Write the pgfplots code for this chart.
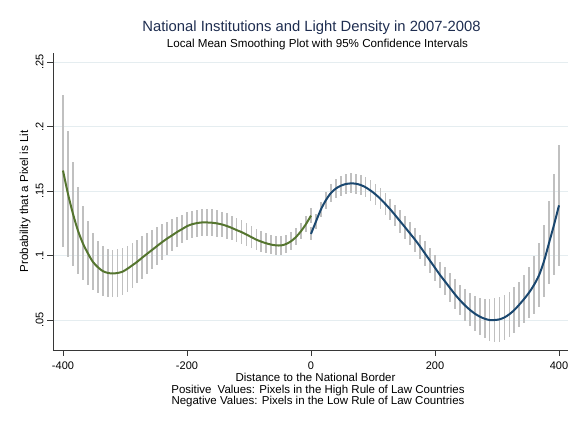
\documentclass[border=0pt]{standalone}
\usepackage{pgfplots}
\pgfplotsset{compat=1.18}
\usepackage{pgfplotstable}
\usepackage{fontspec}
\setmainfont{Liberation Sans}

\definecolor{stgreen}{RGB}{85,117,47}
\definecolor{stnavy}{RGB}{26,71,111}
\definecolor{ttl}{RGB}{30,45,80}
\definecolor{gridc}{RGB}{229,237,240}
\definecolor{cibar}{RGB}{192,192,192}
\definecolor{axc}{RGB}{55,55,55}

% Local mean and half-width of the 95% CI, low rule of law side (x < 0)
\pgfplotstableread{
x y e
-400 .1660 .0590
-392 .1480 .0489
-384 .1326 .0404
-376 .1196 .0340
-368 .1096 .0285
-360 .1019 .0246
-352 .0953 .0220
-344 .0911 .0203
-336 .0880 .0192
-328 .0866 .0187
-320 .0861 .0186
-312 .0865 .0185
-304 .0875 .0182
-296 .0898 .0178
-288 .0925 .0174
-280 .0953 .0169
-272 .0985 .0164
-264 .1015 .0158
-256 .1045 .0152
-248 .1075 .0145
-240 .1105 .0138
-232 .1132 .0131
-224 .1157 .0124
-216 .1183 .0117
-208 .1205 .0111
-200 .1228 .0107
-192 .1243 .0105
-184 .1252 .0104
-176 .1257 .0104
-168 .1257 .0104
-160 .1255 .0103
-152 .1250 .0102
-144 .1242 .0100
-136 .1230 .0098
-128 .1215 .0096
-120 .1198 .0094
-112 .1182 .0091
-104 .1163 .0088
-96 .1143 .0085
-88 .1123 .0082
-80 .1108 .0080
-72 .1095 .0078
-64 .1085 .0076
-56 .1079 .0074
-48 .1079 .0072
-40 .1090 .0070
-32 .1112 .0068
-24 .1145 .0066
-16 .1190 .0064
-8 .1245 .0062
0 .1310 .0060
}\lowtab

% Local mean and half-width of the 95% CI, high rule of law side (x > 0)
\pgfplotstableread{
x y e
0 .1168 .0050
8 .1265 .0055
16 .1358 .0060
24 .1430 .0065
32 .1485 .0070
40 .1520 .0073
48 .1542 .0076
56 .1555 .0077
64 .1560 .0078
72 .1558 .0078
80 .1548 .0078
88 .1530 .0079
96 .1505 .0080
104 .1475 .0080
112 .1440 .0081
120 .1400 .0082
128 .1358 .0083
136 .1312 .0084
144 .1265 .0086
152 .1218 .0088
160 .1170 .0090
168 .1122 .0092
176 .1070 .0093
184 .1015 .0095
192 .0960 .0097
200 .0905 .0100
208 .0850 .0104
216 .0800 .0108
224 .0750 .0112
232 .0700 .0116
240 .0655 .0120
248 .0615 .0125
256 .0580 .0130
264 .0550 .0136
272 .0527 .0143
280 .0510 .0150
288 .0500 .0160
296 .0500 .0170
304 .0505 .0175
312 .0520 .0175
320 .0545 .0175
328 .0578 .0175
336 .0620 .0178
344 .0665 .0185
352 .0715 .0200
360 .0775 .0225
368 .0850 .0250
376 .0960 .0280
384 .1100 .0320
392 .1240 .0390
400 .1390 .0470
}\hightab

\begin{document}
\begin{tikzpicture}
\path[use as bounding box] (-53pt,-76pt) rectangle (518pt,350pt);
\begin{axis}[
  at={(0,0)}, anchor=south west,
  scale only axis, width=515pt, height=297.3pt,
  xmin=-416.1, xmax=414.5, ymin=0.02672, ymax=0.25745,
  axis lines*=left,
  axis line style={axc, line width=0.8pt},
  tick align=outside, major tick length=5.5pt,
  tick style={axc, line width=0.8pt},
  xtick={-400,-200,0,200,400}, xticklabels={-400,-200,0,200,400},
  ytick={0.05,0.1,0.15,0.2,0.25}, yticklabels={.05,.1,.15,.2,.25},
  ymajorgrids, grid style={gridc, line width=0.8pt},
  /pgf/number format/assume math mode=true,
  ticklabel style={font=\fontsize{11}{13}\selectfont, inner sep=0pt},
  xticklabel style={anchor=base, yshift=-13.8pt},
  yticklabel style={xshift=-4.2pt, rotate=90, anchor=base},
  ylabel={Probability that a Pixel is Lit},
  ylabel style={at={(axis description cs:-0.04854,0.5)}, anchor=base,
    font=\fontsize{11.6}{13}\selectfont, inner sep=0pt},
  clip=false,
]
% confidence intervals
\addplot[draw=none, mark=none, forget plot,
  error bars/.cd, y dir=both, y explicit, error mark=none,
  error bar style={draw=cibar, line width=1.8pt, solid}]
  table[x=x, y=y, y error=e] {\lowtab};
\addplot[draw=none, mark=none, forget plot,
  error bars/.cd, y dir=both, y explicit, error mark=none,
  error bar style={draw=cibar, line width=1.8pt, solid}]
  table[x=x, y=y, y error=e] {\hightab};
% local mean curves
\addplot[stgreen, line width=2pt, mark=none, smooth] table[x=x, y=y] {\lowtab};
\addplot[stnavy, line width=2pt, mark=none, smooth] table[x=x, y=y] {\hightab};
\end{axis}
% titles
\node[anchor=base, text=ttl, font=\fontsize{14.8}{17}\selectfont] at (258.5pt,318.3pt)
  {National Institutions and Light Density in 2007-2008};
\node[anchor=base, font=\fontsize{11.6}{14}\selectfont] at (264.5pt,302.7pt)
  {Local Mean Smoothing Plot with 95\% Confidence Intervals};
% x axis title
\node[anchor=base, font=\fontsize{11.5}{13}\selectfont, inner sep=0pt] at (262.5pt,-31.5pt)
  {Distance to the National Border};
\node[anchor=base, font=\fontsize{11.5}{13}\selectfont, inner sep=0pt] at (265pt,-43pt)
  {Positive\hspace{0.25em} Values: Pixels in the High Rule of Law Countries};
\node[anchor=base, font=\fontsize{11.5}{13}\selectfont, inner sep=0pt] at (265pt,-54.5pt)
  {Negative Values: Pixels in the Low Rule of Law Countries};
\end{tikzpicture}
\end{document}
